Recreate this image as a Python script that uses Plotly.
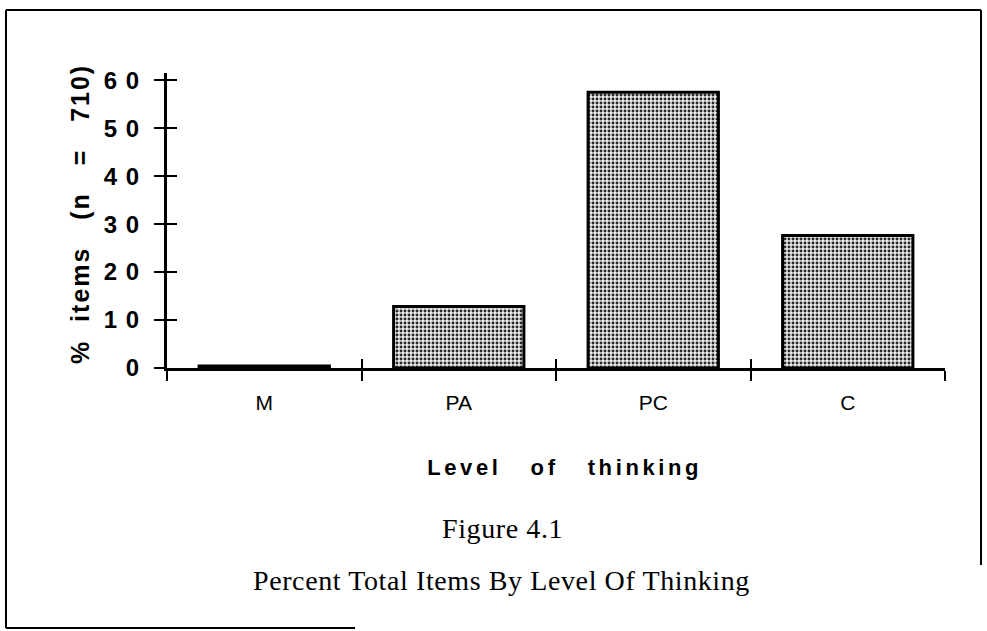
import plotly.graph_objects as go

categories = ["M", "PA", "PC", "C"]
percent_items = [0.4, 12.8, 57.5, 27.6]
y_tick_values = [0, 10, 20, 30, 40, 50, 60]
y_tick_labels = ["0", "1 0", "2 0", "3 0", "4 0", "5 0", "6 0"]

W, H = 987, 631
L, R, T, B = 167, 42, 73, 263
PW, PH = W - L - R, H - T - B


def px(x):
    return (x - L) / PW


def py(y):
    return (H - B - y) / PH


SANS = "Liberation Sans, Arial, sans-serif"
NARROW = "Liberation Sans Narrow, Arial Narrow, Liberation Sans, sans-serif"
SERIF = "Liberation Serif, Times New Roman, serif"

fig = go.Figure()
fig.add_trace(go.Bar(
    x=categories, y=percent_items, width=0.67,
    marker=dict(color="#b4b4b4",
                line=dict(color="black", width=3),
                pattern=dict(shape=".", fgcolor="#2a2a2a", bgcolor="#ececec",
                             size=4, solidity=0.42, fillmode="replace")),
    showlegend=False, hoverinfo="skip",
))
# invisible trace to activate the overlay axes that give the crossing ticks
fig.add_trace(go.Scatter(x=categories, y=[None] * 4, xaxis="x2", yaxis="y2",
                         showlegend=False, hoverinfo="skip"))

axis_common = dict(tickwidth=2, tickcolor="black", showgrid=False, zeroline=False)
fig.update_layout(
    width=W, height=H,
    margin=dict(l=L, r=R, t=T, b=B),
    paper_bgcolor="white", plot_bgcolor="white",
    font=dict(family=SANS, color="black"),
    xaxis=dict(
        type="category", tickson="boundaries", ticks="outside", ticklen=10,
        showline=True, linewidth=3, linecolor="black",
        tickfont=dict(size=21, family=NARROW), ticklabelstandoff=14,
        range=[-0.5, 3.5], **axis_common,
    ),
    xaxis2=dict(
        type="category", overlaying="x", tickson="boundaries", ticks="inside",
        ticklen=9, showticklabels=False, showline=False, range=[-0.5, 3.5],
        **axis_common,
    ),
    yaxis=dict(
        range=[0, 61.5], tickvals=y_tick_values, ticktext=y_tick_labels,
        ticks="outside", ticklen=10, showline=True, linewidth=3, linecolor="black",
        tickfont=dict(size=24, family=SANS, weight="bold"), ticklabelstandoff=9,
        **axis_common,
    ),
    yaxis2=dict(
        range=[0, 61.5], overlaying="y", tickvals=y_tick_values, showticklabels=False,
        ticks="inside", ticklen=10, showline=False, **axis_common,
    ),
)

fig.add_annotation(text="<b>%  items   (n   =   710)</b>", textangle=-90,
                   xref="paper", yref="paper", x=px(80), y=py(214),
                   xanchor="center", yanchor="middle", showarrow=False,
                   font=dict(size=25, family=SANS))
fig.add_annotation(text="<b>Level   of   thinking</b>",
                   xref="paper", yref="paper", x=px(564), y=py(467),
                   xanchor="center", yanchor="middle", showarrow=False,
                   font=dict(size=22, family=SANS))
fig.add_annotation(text="Figure 4.1",
                   xref="paper", yref="paper", x=px(502), y=py(528),
                   xanchor="center", yanchor="middle", showarrow=False,
                   font=dict(size=28, family=SERIF))
fig.add_annotation(text="Percent Total Items By Level Of Thinking",
                   xref="paper", yref="paper", x=px(501), y=py(580),
                   xanchor="center", yanchor="middle", showarrow=False,
                   font=dict(size=28, family=SERIF))

# page frame (scanned page border)
frame = dict(type="line", xref="paper", yref="paper", line=dict(color="black", width=2))
fig.add_shape(x0=px(6), x1=px(981), y0=py(10), y1=py(10), **frame)
fig.add_shape(x0=px(6), x1=px(6), y0=py(10), y1=py(628), **frame)
fig.add_shape(x0=px(981), x1=px(981), y0=py(10), y1=py(565), **frame)
fig.add_shape(x0=px(6), x1=px(355), y0=py(628), y1=py(628), **frame)

post = """
document.body.style.margin = '0';
document.body.style.padding = '0';
var sp = {'%': '2px', 'Level': '3.6px', 'Percent': '0.6px', 'Figure': '0.6px'};
document.querySelectorAll('.annotation-text').forEach(function (e) {
  var t = e.textContent;
  for (var k in sp) { if (t.indexOf(k) === 0) { e.style.letterSpacing = sp[k]; } }
});
document.querySelectorAll('.ytick text').forEach(function (e) { e.style.letterSpacing = '1px'; });
"""

fig.write_html("out.html", post_script=post, config={"displayModeBar": False})
